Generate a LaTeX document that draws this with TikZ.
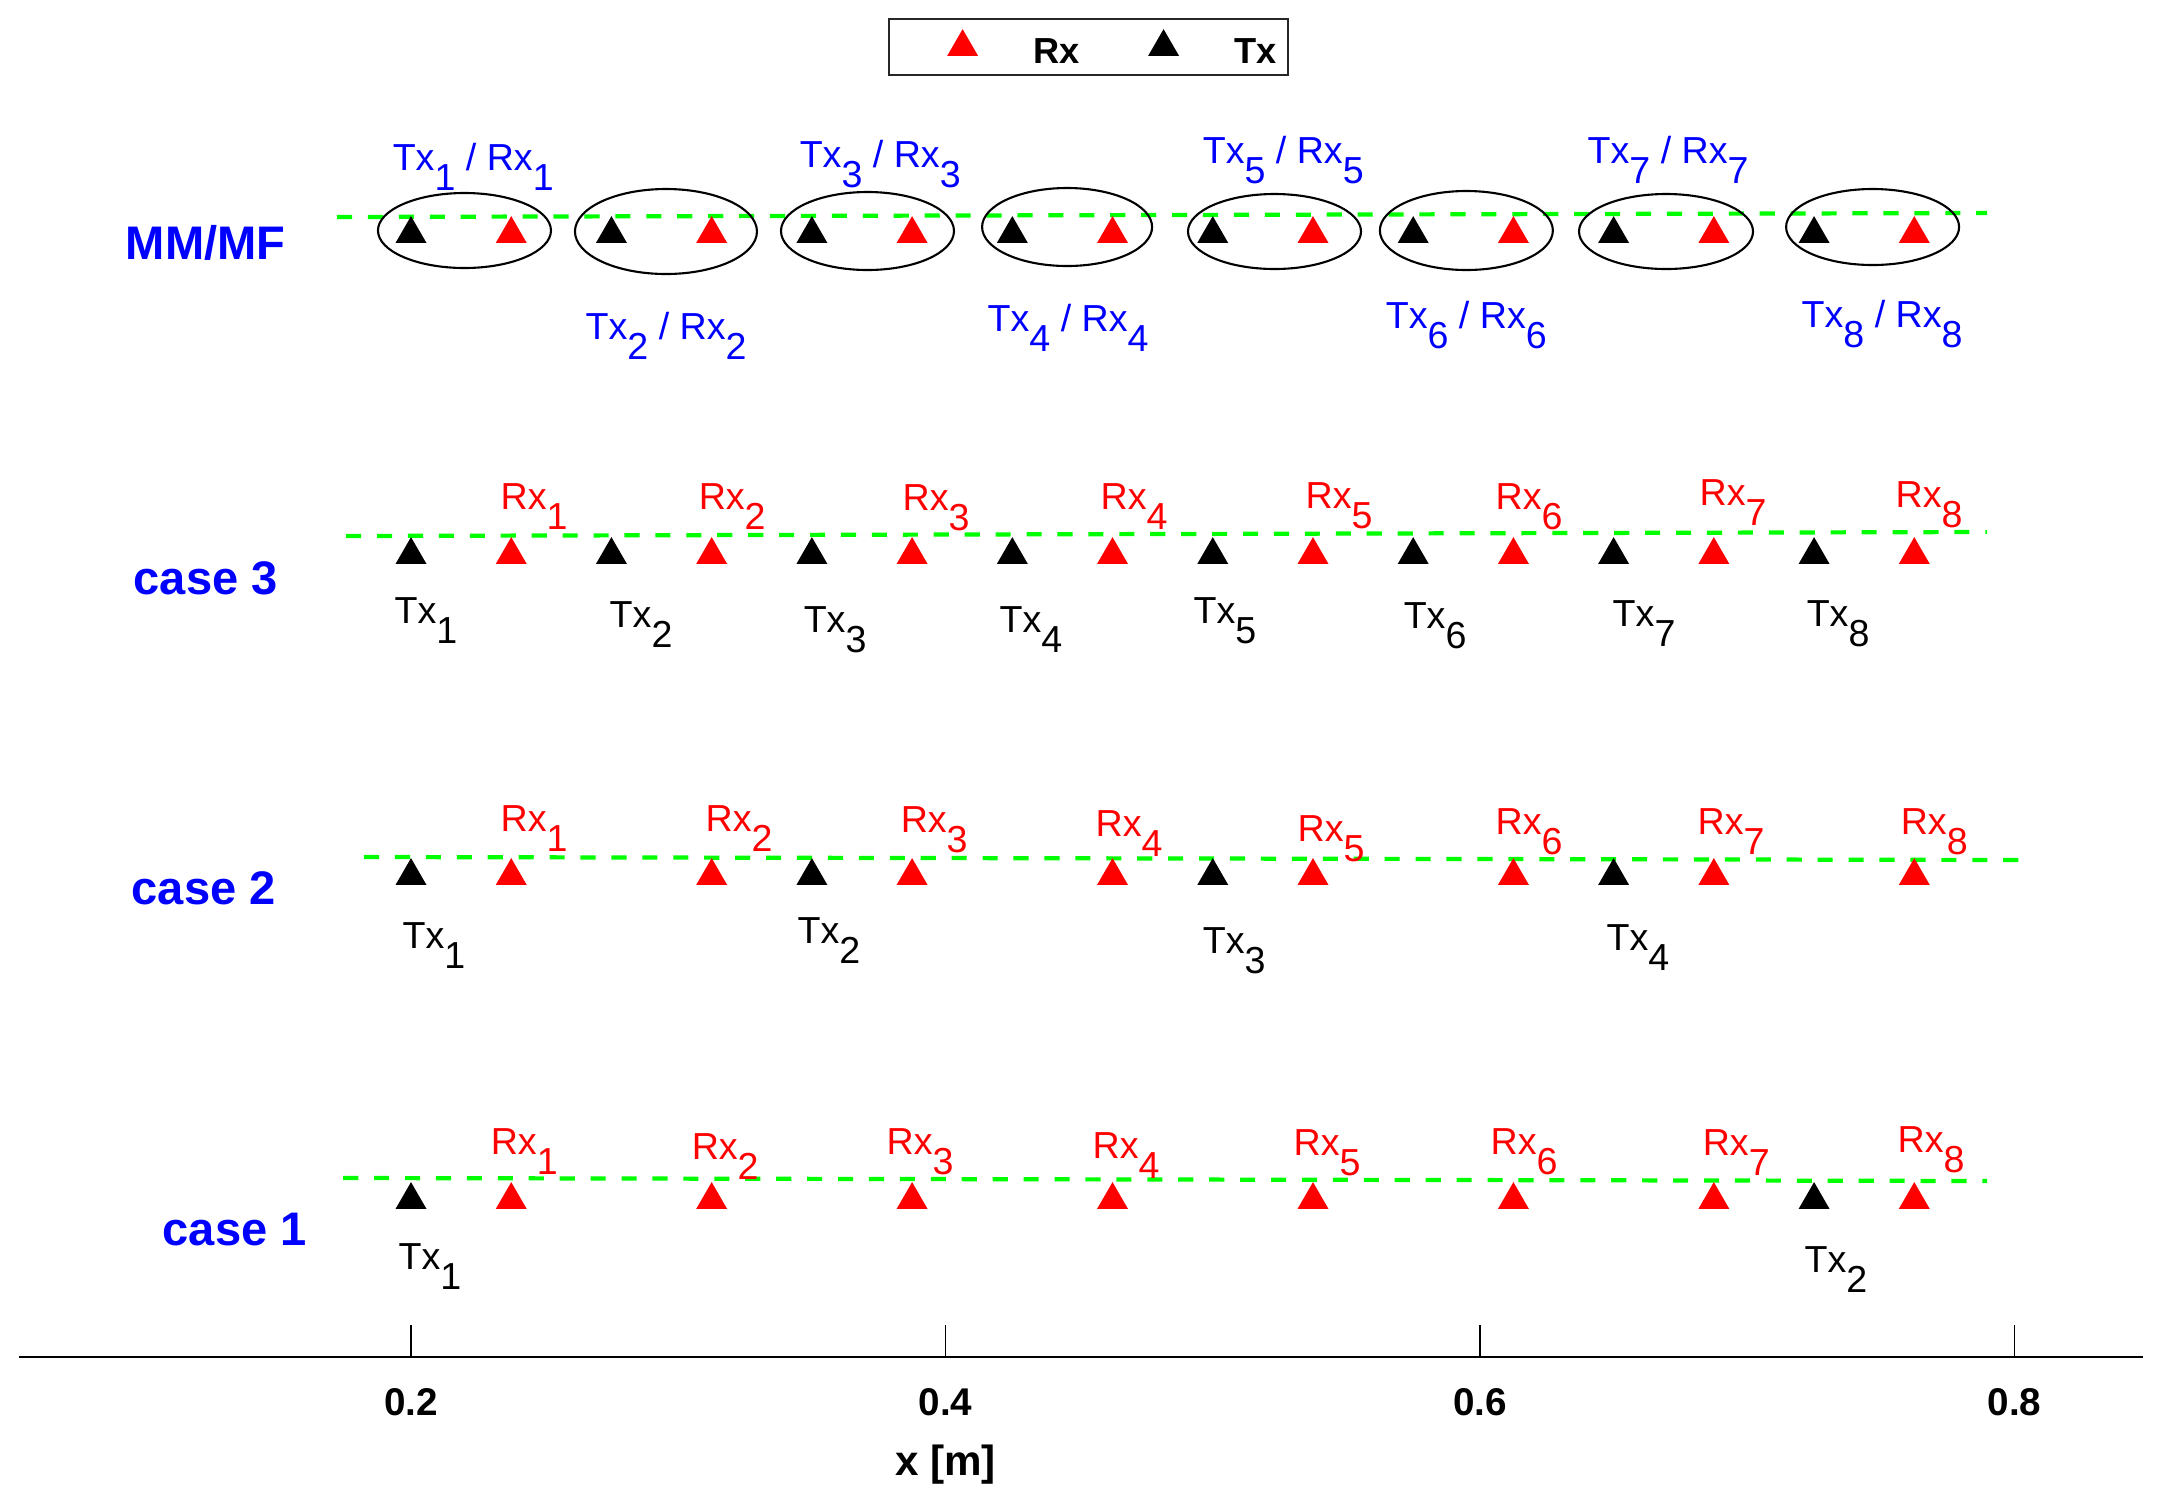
\documentclass[tikz,border=0pt]{standalone}
\usepackage{fontspec}
\setmainfont{Liberation Sans}
\usetikzlibrary{shapes.geometric}
\newcommand{\lowsub}[1]{\raisebox{-0.55em}{#1}}
\tikzset{
	txmark/.style={regular polygon, regular polygon sides=3, fill=black, inner sep=0pt, outer sep=0pt, minimum size=3.58mm},
	rxmark/.style={txmark, fill=red},
	lbl/.style={inner sep=0pt, anchor=base west, font=\fontsize{10.7}{12}\selectfont},
	txlbl/.style={lbl, text=black},
	rxlbl/.style={lbl, text=red},
	pairlbl/.style={lbl, text=blue},
	rowlbl/.style={inner sep=0pt, anchor=base west, text=blue, font=\fontsize{13.4}{15}\selectfont\bfseries},
	ticklbl/.style={inner sep=0pt, anchor=base, font=\fontsize{11}{13}\selectfont\bfseries},
	leglbl/.style={inner sep=0pt, anchor=base west, font=\fontsize{10.3}{12}\selectfont\bfseries},
	sensline/.style={green, line width=1.2pt, dash pattern=on 4.3pt off 4.5pt},
	pairring/.style={line width=0.6pt}
}
\begin{document}
\begin{tikzpicture}[x=26.725cm,y=-1cm]
		\useasboundingbox (0.04621,0) rectangle (0.85856,15.06);
		\draw[black!85, line width=0.5pt, fill=white] (0.3789,0.19) rectangle (0.5282,0.75);
		\node[rxmark] (legr) at (0.4064,0.47) {};
		\node[txmark] (legt) at (0.4816,0.47) {};
		\node[leglbl] (legrx) at (0.4327,0.63) {Rx};
		\node[leglbl] (legtx) at (0.5080,0.63) {Tx};
		\node[rowlbl] (rowm) at (0.0930,2.59) {MM/MF};
		\node[rowlbl] (row3) at (0.0960,5.94) {case 3};
		\node[rowlbl] (row2) at (0.0952,9.04) {case 2};
		\node[rowlbl] (row1) at (0.1068,12.45) {case 1};
		\draw[sensline] (0.1723,2.17)--(0.7897,2.13);
		\draw[sensline] (0.1757,5.36)--(0.7897,5.32);
		\draw[sensline] (0.1824,8.57)--(0.8017,8.60);
		\draw[sensline] (0.1746,11.78)--(0.7897,11.81);
		\draw[pairring] (0.2200,2.305) ellipse [x radius=0.865cm, y radius=0.375cm];
		\draw[pairring] (0.2954,2.315) ellipse [x radius=0.91cm, y radius=0.425cm];
		\draw[pairring] (0.3708,2.31) ellipse [x radius=0.865cm, y radius=0.39cm];
		\draw[pairring] (0.4455,2.27) ellipse [x radius=0.85cm, y radius=0.39cm];
		\draw[pairring] (0.5231,2.315) ellipse [x radius=0.865cm, y radius=0.375cm];
		\draw[pairring] (0.5949,2.305) ellipse [x radius=0.865cm, y radius=0.395cm];
		\draw[pairring] (0.6696,2.315) ellipse [x radius=0.87cm, y radius=0.375cm];
		\draw[pairring] (0.7469,2.27) ellipse [x radius=0.865cm, y radius=0.38cm];
		\node[txmark] (tm1) at (0.2,2.34) {}; \node[rxmark] (rm1) at (0.2375,2.34) {};
		\node[txmark] (tm2) at (0.275,2.34) {}; \node[rxmark] (rm2) at (0.3125,2.34) {};
		\node[txmark] (tm3) at (0.35,2.34) {}; \node[rxmark] (rm3) at (0.3875,2.34) {};
		\node[txmark] (tm4) at (0.425,2.34) {}; \node[rxmark] (rm4) at (0.4625,2.34) {};
		\node[txmark] (tm5) at (0.5,2.34) {}; \node[rxmark] (rm5) at (0.5375,2.34) {};
		\node[txmark] (tm6) at (0.575,2.34) {}; \node[rxmark] (rm6) at (0.6125,2.34) {};
		\node[txmark] (tm7) at (0.65,2.34) {}; \node[rxmark] (rm7) at (0.6875,2.34) {};
		\node[txmark] (tm8) at (0.725,2.34) {}; \node[rxmark] (rm8) at (0.7625,2.34) {};
		\node[pairlbl] (pm1) at (0.1929,1.70) {Tx\lowsub{1} / Rx\lowsub{1}};
		\node[pairlbl] (pm2) at (0.2651,3.39) {Tx\lowsub{2} / Rx\lowsub{2}};
		\node[pairlbl] (pm3) at (0.3452,1.67) {Tx\lowsub{3} / Rx\lowsub{3}};
		\node[pairlbl] (pm4) at (0.4155,3.31) {Tx\lowsub{4} / Rx\lowsub{4}};
		\node[pairlbl] (pm5) at (0.4960,1.63) {Tx\lowsub{5} / Rx\lowsub{5}};
		\node[pairlbl] (pm6) at (0.5645,3.28) {Tx\lowsub{6} / Rx\lowsub{6}};
		\node[pairlbl] (pm7) at (0.6400,1.63) {Tx\lowsub{7} / Rx\lowsub{7}};
		\node[pairlbl] (pm8) at (0.7201,3.27) {Tx\lowsub{8} / Rx\lowsub{8}};
		\node[txmark] (t31) at (0.2,5.55) {}; \node[rxmark] (r31) at (0.2375,5.55) {};
		\node[txmark] (t32) at (0.275,5.55) {}; \node[rxmark] (r32) at (0.3125,5.55) {};
		\node[txmark] (t33) at (0.35,5.55) {}; \node[rxmark] (r33) at (0.3875,5.55) {};
		\node[txmark] (t34) at (0.425,5.55) {}; \node[rxmark] (r34) at (0.4625,5.55) {};
		\node[txmark] (t35) at (0.5,5.55) {}; \node[rxmark] (r35) at (0.5375,5.55) {};
		\node[txmark] (t36) at (0.575,5.55) {}; \node[rxmark] (r36) at (0.6125,5.55) {};
		\node[txmark] (t37) at (0.65,5.55) {}; \node[rxmark] (r37) at (0.6875,5.55) {};
		\node[txmark] (t38) at (0.725,5.55) {}; \node[rxmark] (r38) at (0.7625,5.55) {};
		\node[rxlbl] (lr31) at (0.2333,5.09) {Rx\lowsub{1}};
		\node[rxlbl] (lr32) at (0.3074,5.09) {Rx\lowsub{2}};
		\node[rxlbl] (lr33) at (0.3837,5.10) {Rx\lowsub{3}};
		\node[rxlbl] (lr34) at (0.4578,5.09) {Rx\lowsub{4}};
		\node[rxlbl] (lr35) at (0.5345,5.08) {Rx\lowsub{5}};
		\node[rxlbl] (lr36) at (0.6056,5.09) {Rx\lowsub{6}};
		\node[rxlbl] (lr37) at (0.6819,5.05) {Rx\lowsub{7}};
		\node[rxlbl] (lr38) at (0.7553,5.07) {Rx\lowsub{8}};
		\node[txlbl] (lt31) at (0.1936,6.23) {Tx\lowsub{1}};
		\node[txlbl] (lt32) at (0.2741,6.27) {Tx\lowsub{2}};
		\node[txlbl] (lt33) at (0.3467,6.32) {Tx\lowsub{3}};
		\node[txlbl] (lt34) at (0.4200,6.32) {Tx\lowsub{4}};
		\node[txlbl] (lt35) at (0.4926,6.23) {Tx\lowsub{5}};
		\node[txlbl] (lt36) at (0.5712,6.28) {Tx\lowsub{6}};
		\node[txlbl] (lt37) at (0.6494,6.26) {Tx\lowsub{7}};
		\node[txlbl] (lt38) at (0.7220,6.26) {Tx\lowsub{8}};
		\node[txmark] (t21) at (0.2,8.76) {}; \node[rxmark] (r21) at (0.2375,8.76) {};
		\node[rxmark] (r22) at (0.3125,8.76) {};
		\node[txmark] (t22) at (0.35,8.76) {}; \node[rxmark] (r23) at (0.3875,8.76) {};
		\node[rxmark] (r24) at (0.4625,8.76) {};
		\node[txmark] (t23) at (0.5,8.76) {}; \node[rxmark] (r25) at (0.5375,8.76) {};
		\node[rxmark] (r26) at (0.6125,8.76) {};
		\node[txmark] (t24) at (0.65,8.76) {}; \node[rxmark] (r27) at (0.6875,8.76) {};
		\node[rxmark] (r28) at (0.7625,8.76) {};
		\node[rxlbl] (lr21) at (0.2333,8.31) {Rx\lowsub{1}};
		\node[rxlbl] (lr22) at (0.3100,8.31) {Rx\lowsub{2}};
		\node[rxlbl] (lr23) at (0.3830,8.32) {Rx\lowsub{3}};
		\node[rxlbl] (lr24) at (0.4559,8.36) {Rx\lowsub{4}};
		\node[rxlbl] (lr25) at (0.5315,8.41) {Rx\lowsub{5}};
		\node[rxlbl] (lr26) at (0.6056,8.34) {Rx\lowsub{6}};
		\node[rxlbl] (lr27) at (0.6812,8.34) {Rx\lowsub{7}};
		\node[rxlbl] (lr28) at (0.7572,8.34) {Rx\lowsub{8}};
		\node[txlbl] (lt21) at (0.1966,9.48) {Tx\lowsub{1}};
		\node[txlbl] (lt22) at (0.3444,9.43) {Tx\lowsub{2}};
		\node[txlbl] (lt23) at (0.4960,9.53) {Tx\lowsub{3}};
		\node[txlbl] (lt24) at (0.6471,9.50) {Tx\lowsub{4}};
		\node[txmark] (t11) at (0.2,12.00) {}; \node[rxmark] (r11) at (0.2375,12.00) {};
		\node[rxmark] (r12) at (0.3125,12.00) {};
		\node[rxmark] (r13) at (0.3875,12.00) {};
		\node[rxmark] (r14) at (0.4625,12.00) {};
		\node[rxmark] (r15) at (0.5375,12.00) {};
		\node[rxmark] (r16) at (0.6125,12.00) {};
		\node[rxmark] (r17) at (0.6875,12.00) {};
		\node[txmark] (t12) at (0.725,12.00) {}; \node[rxmark] (r18) at (0.7625,12.00) {};
		\node[rxlbl] (lr11) at (0.2296,11.54) {Rx\lowsub{1}};
		\node[rxlbl] (lr12) at (0.3048,11.59) {Rx\lowsub{2}};
		\node[rxlbl] (lr13) at (0.3777,11.54) {Rx\lowsub{3}};
		\node[rxlbl] (lr14) at (0.4548,11.58) {Rx\lowsub{4}};
		\node[rxlbl] (lr15) at (0.5300,11.55) {Rx\lowsub{5}};
		\node[rxlbl] (lr16) at (0.6037,11.54) {Rx\lowsub{6}};
		\node[rxlbl] (lr17) at (0.6831,11.55) {Rx\lowsub{7}};
		\node[rxlbl] (lr18) at (0.7560,11.52) {Rx\lowsub{8}};
		\node[txlbl] (lt11) at (0.1951,12.69) {Tx\lowsub{1}};
		\node[txlbl] (lt12) at (0.7212,12.72) {Tx\lowsub{2}};
		\draw[line width=0.8pt] (0.0533,13.57)--(0.8481,13.57);
		\draw[line width=0.4pt] (0.2,13.57)--(0.2,13.25);
		\draw[line width=0.4pt] (0.4,13.57)--(0.4,13.25);
		\draw[line width=0.4pt] (0.6,13.57)--(0.6,13.25);
		\draw[line width=0.4pt] (0.8,13.57)--(0.8,13.25);
		\node[ticklbl] (k2) at (0.2,14.15) {0.2};
		\node[ticklbl] (k4) at (0.4,14.15) {0.4};
		\node[ticklbl] (k6) at (0.6,14.15) {0.6};
		\node[ticklbl] (k8) at (0.8,14.15) {0.8};
		\node[inner sep=0pt, font=\fontsize{12}{14}\selectfont\bfseries] (xlab) at (0.4,14.65) {x [m]};
		\end{tikzpicture}
\end{document}
